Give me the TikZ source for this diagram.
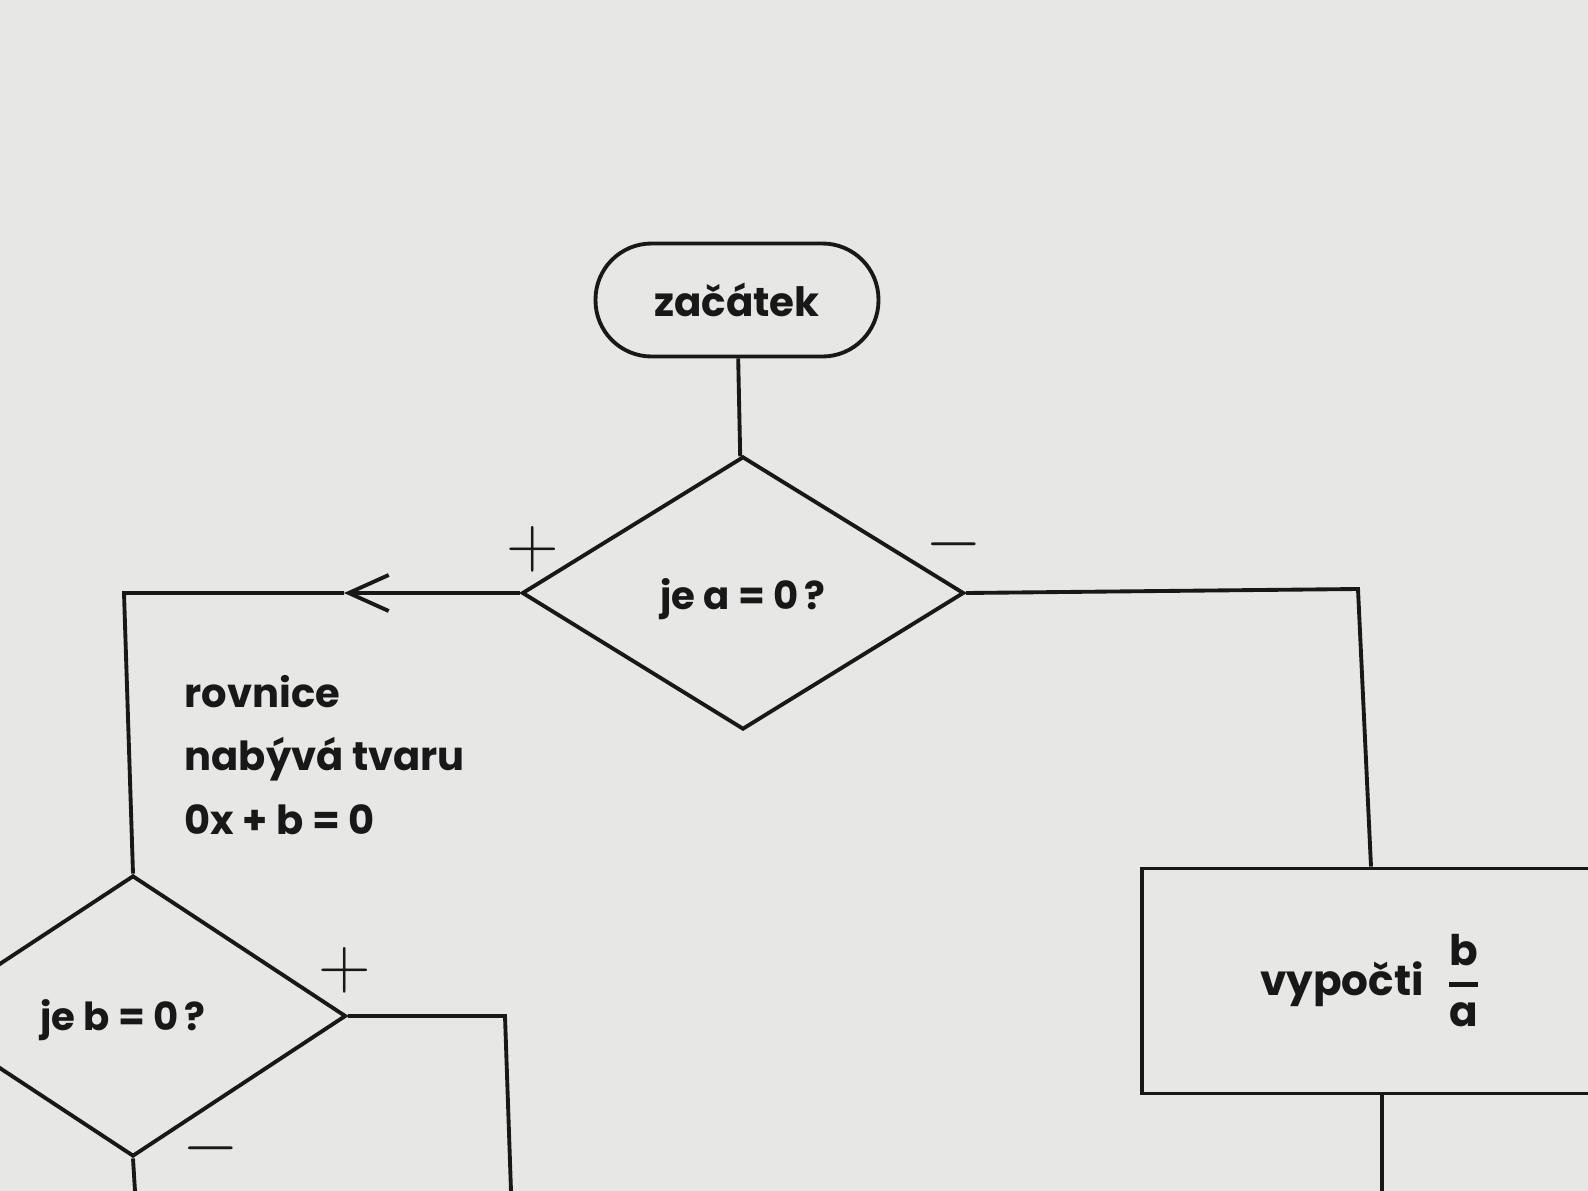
\documentclass[tikz,border=0pt]{standalone}
\usepackage{amsmath}
\usepackage{fontspec}
\setmainfont{Poppins}
\usetikzlibrary{arrows.meta,shapes.geometric}
\definecolor{paper}{RGB}{231,231,229}
\definecolor{ink}{RGB}{24,24,24}
\tikzset{
  fcterm/.style={draw=ink,line width=1.1pt,rounded corners=5.6mm,minimum width=28.3mm,minimum height=11.3mm,inner sep=0pt},
  fcdecision/.style={diamond,draw=ink,line width=1.1pt,inner sep=0pt,text depth=3pt},
  fcprocess/.style={draw=ink,line width=1.1pt,minimum width=45.8mm,minimum height=22.5mm,inner sep=0pt},
  fcsign/.style={font=\fontsize{20}{20}\selectfont,text=ink,inner sep=0pt},
  fcline/.style={draw=ink,line width=1.1pt}
}
\begin{document}
\begin{tikzpicture}[x=0.1mm,y=-0.1mm,font=\fontsize{11}{18}\selectfont\bfseries,text=ink]
  \fill[paper] (0,0) rectangle (1588,1191);
  \useasboundingbox (0,0) rectangle (1588,1191);
  \clip (0,0) rectangle (1588,1191);

  % boxes
  \node[fcterm,font=\fontsize{11.5}{18}\selectfont\bfseries] (start) at (737,300) {začátek};
  \node[fcdecision,text height=12.6pt,minimum width=44.2mm,minimum height=27.3mm] (askA) at (743,593) {je a = 0\,?};
  \node[fcdecision,text height=11pt,minimum width=42.6mm,minimum height=28.1mm] (askB) at (133,1016) {je b = 0\,?\kern2mm};
  \node[fcprocess,font=\fontsize{12}{18}\selectfont\bfseries] (ratio) at (1371,981) {vypočti\enspace$\genfrac{}{}{1.5pt}{0}{\text{b}}{\text{a}}$};
  \node[align=left,anchor=west,inner sep=0pt,font=\fontsize{11.4}{18}\selectfont\bfseries] (eqnote) at (184,755) {rovnice\\nabývá tvaru\\0x + b = 0};

  % branch signs
  \node[fcsign] (plusA) at (533,549) {$+$};
  \node[fcsign] (minusA) at (954,544) {$-$};
  \node[fcsign] (plusB) at (345,970) {$+$};
  \node[fcsign] (minusB) at (211,1148) {$-$};

  % turning points
  \coordinate (tipA) at (344,593);
  \coordinate (turnA) at (124,593);
  \coordinate (turnC) at (1358,589);
  \coordinate (turnB) at (505,1016);
  \coordinate (exitB) at (511,1191);
  \coordinate (exitD) at (135,1191);
  \coordinate (exitR) at (1382,1191);

  \draw[fcline] (start) -- (askA);
  \draw[fcline,-{Straight Barb[length=4mm,width=3.6mm]}] (askA.west) -- (tipA);
  \draw[fcline] (tipA) -- (turnA) -- (askB.north);
  \draw[fcline] (askA.east) -- (turnC) -- (ratio.north);
  \draw[fcline] (askB.east) -- (turnB) -- (exitB);
  \draw[fcline] (askB.south) -- (exitD);
  \draw[fcline] (ratio.south -| exitR) -- (exitR);
\end{tikzpicture}
\end{document}
